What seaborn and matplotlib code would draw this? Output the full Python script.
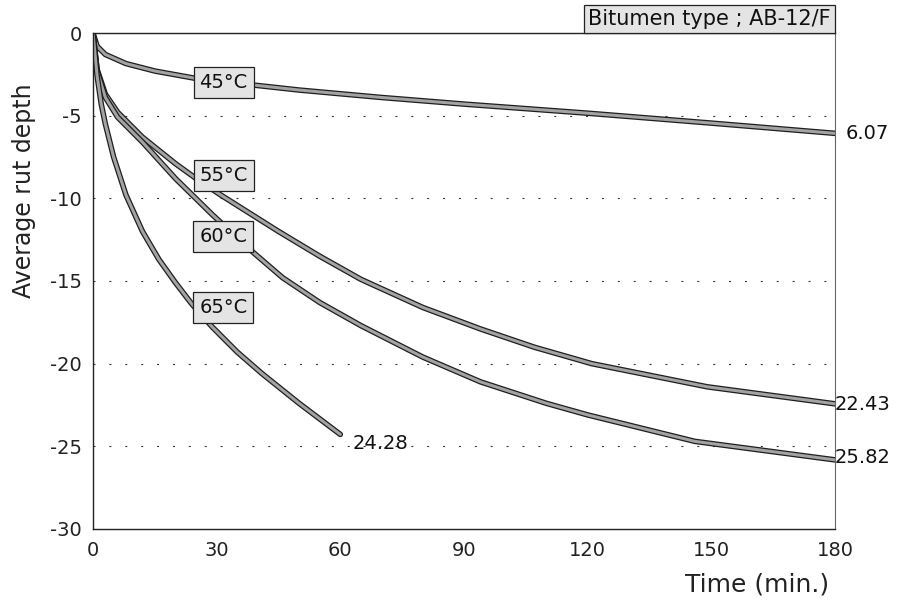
import seaborn as sns
import pandas as pd
import matplotlib.pyplot as plt
import matplotlib.patheffects as pe

# values (time in minutes, rut depth)
time_45 = [0, 1, 3, 8, 15, 25, 39, 50, 70, 90, 120, 150, 180]
depth_45 = [0, -0.8, -1.3, -1.85, -2.3, -2.75, -3.15, -3.45, -3.9, -4.3, -4.85, -5.45, -6.07]

time_55 = [0, 1, 3, 6, 12, 20, 25, 31, 45, 55, 65, 80, 94, 107, 121, 149, 180]
depth_55 = [0, -2.2, -3.7, -4.8, -6.3, -7.9, -8.8, -9.8, -12.0, -13.5, -14.9, -16.6, -17.9, -19.0, -20.0, -21.4, -22.43]

time_60 = [0, 1, 3, 6, 12, 20, 29, 39, 46, 55, 65, 80, 94, 110, 120, 146, 180]
depth_60 = [0, -2.3, -3.9, -5.1, -6.6, -8.8, -11.0, -13.3, -14.8, -16.3, -17.7, -19.6, -21.1, -22.4, -23.1, -24.7, -25.82]

time_65 = [0, 1, 2, 3, 5, 8, 12, 16, 20, 24, 29, 35, 41, 50, 60]
depth_65 = [0, -2.6, -4.3, -5.5, -7.5, -9.8, -12.0, -13.7, -15.1, -16.4, -17.8, -19.3, -20.6, -22.4, -24.28]

temps = ["45°C", "55°C", "60°C", "65°C"]
label_times = [31.7, 31.8, 31.6, 31.6]
label_depths = [-3.0, -8.6, -12.3, -16.6]

end_labels = ["6.07", "22.43", "25.82", "24.28"]
end_times = [182.5, 180, 180, 63]
end_depths = [-6.07, -22.5, -25.7, -24.8]

xticks = [0, 30, 60, 90, 120, 150, 180]
yticks = [-30, -25, -20, -15, -10, -5, 0]
ytick_labels = ["-30", "-25", "-20", "-15", "-10", "-5", "0"]

df = pd.concat([
    pd.DataFrame({"time": time_45, "depth": depth_45, "temp": temps[0]}),
    pd.DataFrame({"time": time_55, "depth": depth_55, "temp": temps[1]}),
    pd.DataFrame({"time": time_60, "depth": depth_60, "temp": temps[2]}),
    pd.DataFrame({"time": time_65, "depth": depth_65, "temp": temps[3]}),
])

sns.set_style("white")
plt.rcParams["font.family"] = ["DejaVu Sans"]

fig = plt.figure(figsize=(9.09, 6.10), dpi=100)
ax = fig.add_axes([0.1023, 0.1328, 0.8163, 0.8131])

sns.lineplot(data=df, x="time", y="depth", hue="temp", palette=["#a3a3a3"] * 4,
             estimator=None, sort=False, legend=False, lw=2.2, ax=ax)
for line in ax.get_lines():
    line.set_path_effects([pe.Stroke(linewidth=4.0, foreground="#1e1e1e"), pe.Normal()])
    line.set_solid_joinstyle("round")

ax.set_xlim(0, 180)
ax.set_ylim(-30, 0)
ax.set_xticks(xticks)
ax.set_yticks(yticks)
ax.set_yticklabels(ytick_labels)
ax.tick_params(axis="y", direction="in", length=10, width=0.8, pad=8, labelsize=14, colors="#222")
ax.tick_params(axis="x", direction="in", length=8, width=0.8, pad=9, labelsize=14, colors="#222")

# sparse dotted horizontal grid
for yv in yticks[1:-1]:
    ax.axhline(yv, color="#333", lw=0.8, dashes=(1.8, 12.5), zorder=0)

for side in ["left", "bottom", "top"]:
    ax.spines[side].set_color("#222")
    ax.spines[side].set_linewidth(1.0)
ax.spines["right"].set_color("#666")
ax.spines["right"].set_linewidth(0.8)
ax.spines["right"].set_linestyle((0, (2, 1)))

ax.set_xlabel("")
ax.set_ylabel("")

box = dict(boxstyle="square,pad=0.3", facecolor="#e4e4e4", edgecolor="#222", linewidth=0.9)
for name, tx, ty in zip(temps, label_times, label_depths):
    ax.text(tx, ty, name, ha="center", va="center", fontsize=14, color="#111",
            bbox=box, zorder=5)

for lab, tx, ty in zip(end_labels, end_times, end_depths):
    ax.text(tx, ty, lab, ha="left", va="center", fontsize=14, color="#111",
            clip_on=False)

ax.text(0.9945, 1.008, "Bitumen type ; AB-12/F", transform=ax.transAxes,
        ha="right", va="bottom", fontsize=15, color="#111",
        bbox=dict(boxstyle="square,pad=0.2", facecolor="#e4e4e4", edgecolor="#222",
                  linewidth=0.9), clip_on=False)

fig.text(0.026, 0.688, "Average rut depth", rotation=90, ha="center", va="center",
         fontsize=17, color="#222")
fig.text(0.833, 0.041, "Time (min.)", ha="center", va="center", fontsize=18, color="#222")

fig.savefig("out.png", dpi=100)
